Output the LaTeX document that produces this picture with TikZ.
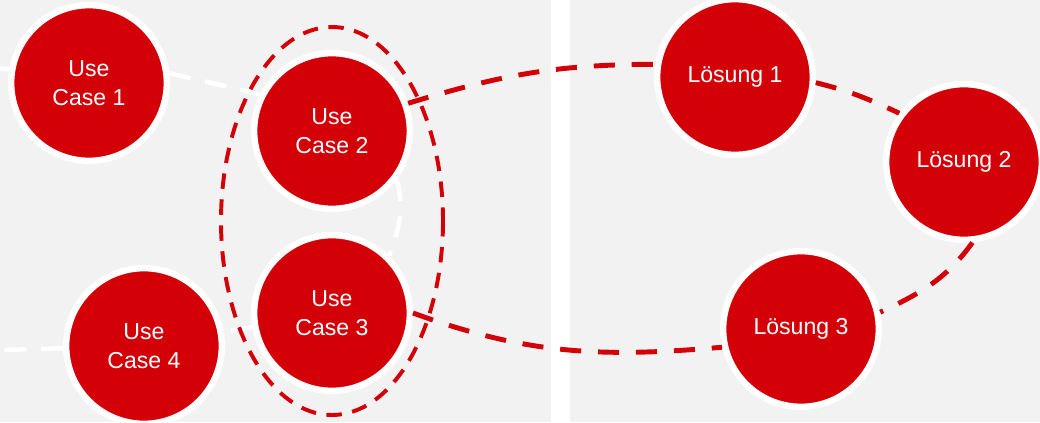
\documentclass[tikz,border=0pt]{standalone}
\usepackage{fontspec}
\setmainfont{Liberation Sans}
\usepackage{xcolor}
\usepackage{tikz}
\usetikzlibrary{calc,positioning}
\definecolor{casered}{HTML}{D40008}
\definecolor{panelgray}{HTML}{F2F2F2}

\begin{document}
\begin{tikzpicture}[
	%	style def
    x=0.025cm, y=-0.025cm,
    bubble/.style={circle, draw=white, fill=casered, line width=1.6mm, minimum size=3.89cm, inner sep=0pt, text=white, align=center, font=\fontsize{16.4}{20.6}\selectfont},
    white link/.style={draw=white, line width=3.2pt, dash pattern=on 15.5pt off 10.5pt},
    red link/.style={draw=casered, line width=3.5pt, dash pattern=on 15pt off 12pt},
    group line/.style={draw=casered, line width=2.8pt, dash pattern=on 11pt off 7.5pt}
    ]
	
	% panels
	\useasboundingbox (0,0) rectangle (1040,422);
	\clip (0,0) rectangle (1040,422);
	\fill[panelgray] (0,0) rectangle (1040,422);
	\fill[white] (551,0) rectangle (570,422);
	
	% use cases
	\node[bubble] (uc1) at (89,83) {Use\\Case 1};
	\node[bubble] (uc2) at (332,131) {Use\\Case 2};
	\node[bubble] (uc3) at (332,313) {Use\\Case 3};
	\node[bubble] (uc4) at (144,346) {Use\\Case 4};
	
	% solutions
	\node[bubble] (l1) at (735,77) {Lösung 1};
	\node[bubble] (l2) at (964,162) {Lösung 2};
	\node[bubble] (l3) at (801,329) {Lösung 3};
	
	% white chain between use cases
	\coordinate (w1) at (0,68);
	\coordinate (w2) at (0,350);
	\draw[white link] (uc1) -- (w1);
	\draw[white link] (uc1.7) -- (uc2.153);
	\draw[white link] (uc2.-37) to[out=-75, in=70] (uc3.45);
	\draw[white link] (uc3) -- (uc4);
	\draw[white link] (uc4) -- (w2);
	
	% red links to solutions
	\draw[red link] (uc2.20) to[out=17, in=180] (l1.171);
	\draw[red link] (uc3.0) to[out=-20, in=185] (l3.193);
	\draw[red link] (l1.-4) to[out=-14, in=155] (l2.143);
	\draw[red link] (l2.-84) to[out=-126, in=25] (l3.12);
	
	% group around use case 2 and 3
	\coordinate (grp) at (332,221);
	\draw[group line] (grp) ellipse [x radius=111, y radius=194];
\end{tikzpicture}
\end{document}
